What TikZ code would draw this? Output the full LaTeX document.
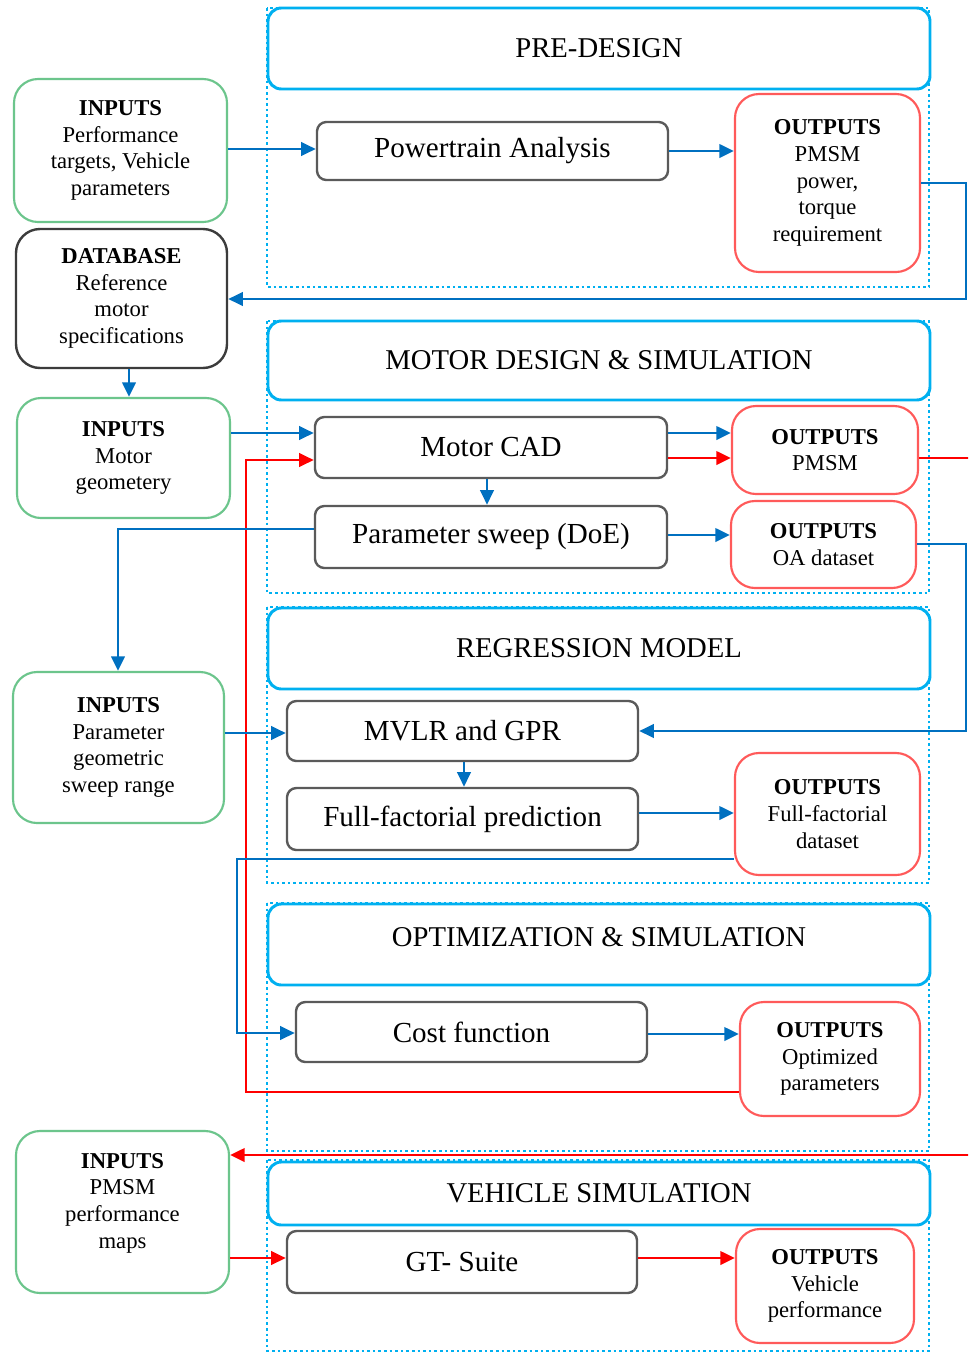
\documentclass[tikz,border=0pt]{standalone}
\usepackage{fontspec}
\setmainfont{Liberation Serif}
\usetikzlibrary{arrows.meta}
\definecolor{cblue}{HTML}{0070C0}
\definecolor{ctitle}{HTML}{00B0F0}
\definecolor{cgreen}{HTML}{6CC58C}
\definecolor{cout}{HTML}{FF5A5A}
\definecolor{cgray}{HTML}{5A5A5A}
\definecolor{cdb}{HTML}{3C3C3C}
\definecolor{cred}{HTML}{FF0000}
\begin{document}
\begin{tikzpicture}[x=0.75pt,y=-0.75pt,
  sz/.style 2 args={minimum width=#1*0.75pt, minimum height=#2*0.75pt},
  base/.style={draw, fill=white, inner sep=0pt, align=center},
  titlebox/.style={base, draw=ctitle, line width=2.2pt, rounded corners=10pt, font=\fontsize{21.5}{26}\selectfont},
  procbox/.style={base, draw=cgray, line width=1.8pt, rounded corners=7pt, font=\fontsize{21.8}{26}\selectfont},
  inbox/.style={base, draw=cgreen, line width=1.6pt, rounded corners=18pt, font=\fontsize{17}{20}\selectfont},
  dbbox/.style={base, draw=cdb, line width=1.8pt, rounded corners=18pt, font=\fontsize{17}{20}\selectfont},
  outbox/.style={base, draw=cout, line width=1.6pt, rounded corners=18pt, font=\fontsize{17}{20}\selectfont},
  plaintext/.style={inner sep=0pt, align=center},
  section/.style={draw=ctitle, line width=2.2pt, dash pattern=on 2pt off 2.2pt},
  barrow/.style={draw=cblue, line width=2.2pt, -{Triangle[length=11pt,width=10pt]}},
  rarrow/.style={draw=cred, line width=2.2pt, -{Triangle[length=11pt,width=10pt]}}
]
\useasboundingbox (0,0) rectangle (968,1353);
\fill[white] (0,0) rectangle (968,1353);
\clip (0,0) rectangle (968,1353);

% dotted section outlines
\draw[section] (267,8) rectangle (929,287);
\draw[section] (267,321) rectangle (929,593);
\draw[section] (267,607) rectangle (929,883);
\draw[section] (267,903) rectangle (929,1151);
\draw[section] (267,1160) rectangle (929,1351);

% title boxes
\node[titlebox, sz={662}{81}] (t1) at (599,48.5) {PRE-DESIGN};
\node[titlebox, sz={662}{79}] (t2) at (599,360.5) {MOTOR DESIGN \& SIMULATION};
\node[titlebox, sz={662}{81}] (t3) at (599,648.5) {REGRESSION MODEL};
\node[titlebox, sz={662}{81}] (t4) at (599,944.5) {};
\node[plaintext, font=\fontsize{21.5}{26}\selectfont] (t4txt) at (599,937.5) {OPTIMIZATION \& SIMULATION};
\node[titlebox, sz={662}{63}] (t5) at (599,1193.5) {VEHICLE SIMULATION};

% process boxes
\node[procbox, sz={351}{58}] (pa) at (492.5,151) {Powertrain Analysis};
\node[procbox, sz={352}{61}] (cad) at (491,447.5) {Motor CAD};
\node[procbox, sz={352}{62}] (doe) at (491,537) {Parameter sweep (DoE)};
\node[procbox, sz={351}{60}] (mvlr) at (462.5,731) {MVLR and GPR};
\node[procbox, sz={351}{62}] (ffp) at (462.5,819) {Full-factorial prediction};
\node[procbox, sz={351}{60}] (cost) at (471.5,1032) {Cost function};
\node[procbox, sz={350}{62}] (gt) at (462,1262) {GT- Suite};

% input boxes
\node[inbox, sz={213}{143}] (in1) at (120.5,150.5) {\textbf{INPUTS}\\Performance\\targets, Vehicle\\parameters};
\node[dbbox, sz={211}{139}] (db) at (121.5,298.5) {\textbf{DATABASE}\\Reference\\motor\\specifications};
\node[inbox, sz={213}{120}] (in2) at (123.5,458) {\textbf{INPUTS}\\Motor\\geometery};
\node[inbox, sz={211}{151}] (in3) at (118.5,747.5) {\textbf{INPUTS}\\Parameter\\geometric\\sweep range};
\node[inbox, sz={213}{162}] (in4) at (122.5,1212) {};
\node[plaintext, font=\fontsize{17}{20}\selectfont] (in4txt) at (122.5,1203) {\textbf{INPUTS}\\PMSM\\performance\\maps};

% output boxes
\node[outbox, sz={185}{178}] (o1) at (827.5,183) {\textbf{OUTPUTS}\\PMSM\\power,\\torque\\requirement};
\node[outbox, sz={186}{88}] (o2) at (825,450) {\textbf{OUTPUTS}\\PMSM};
\node[outbox, sz={185}{87}] (o3) at (823.5,544.5) {\textbf{OUTPUTS}\\OA dataset};
\node[outbox, sz={185}{122}] (o4) at (827.5,814) {\textbf{OUTPUTS}\\Full-factorial\\dataset};
\node[outbox, sz={180}{114}] (o5) at (830,1059) {\textbf{OUTPUTS}\\Optimized\\parameters};
\node[outbox, sz={178}{114}] (o6) at (825,1286) {\textbf{OUTPUTS}\\Vehicle\\performance};

% connectors
\coordinate (r1a) at (966,183);
\coordinate (r1b) at (966,299);
\coordinate (r2a) at (966,544);
\coordinate (r2b) at (966,731);
\coordinate (r3a) at (995,458);
\coordinate (r3b) at (995,1155);

\draw[barrow] (in1.east |- 0,149) -- (pa.west |- 0,149);
\draw[barrow] (pa.east |- 0,151) -- (o1.west |- 0,151);
\draw[barrow] (o1.east |- 0,183) -- (r1a) -- (r1b) -- (db.east |- 0,299);
\draw[barrow] (db.south -| 129,0) -- (in2.north -| 129,0);
\draw[barrow] (in2.east |- 0,433) -- (cad.west |- 0,433);
\draw[rarrow] (o5.west |- 0,1092) -- (246,1092) -- (246,460) -- (cad.west |- 0,460);
\draw[barrow] (cad.east |- 0,433) -- (o2.west |- 0,433);
\draw[rarrow] (cad.east |- 0,458) -- (o2.west |- 0,458);
\draw[barrow] (cad.south -| 487,0) -- (doe.north -| 487,0);
\draw[barrow] (doe.east |- 0,535) -- (o3.west |- 0,535);
\draw[barrow] (doe.west |- 0,529) -- (118,529) -- (in3.north -| 118,0);
\draw[barrow] (o3.east |- 0,544) -- (r2a) -- (r2b) -- (mvlr.east |- 0,731);
\draw[barrow] (in3.east |- 0,733) -- (mvlr.west |- 0,733);
\draw[barrow] (mvlr.south -| 464,0) -- (ffp.north -| 464,0);
\draw[barrow] (ffp.east |- 0,813) -- (o4.west |- 0,813);
\draw[barrow] (o4.west |- 0,859) -- (237,859) -- (237,1033) -- (cost.west |- 0,1033);
\draw[barrow] (cost.east |- 0,1034) -- (o5.west |- 0,1034);
\draw[rarrow] (o2.east |- 0,458) -- (r3a) -- (r3b) -- (in4.east |- 0,1155);
\draw[rarrow] (in4.east |- 0,1258) -- (gt.west |- 0,1258);
\draw[rarrow] (gt.east |- 0,1258) -- (o6.west |- 0,1258);
\end{tikzpicture}
\end{document}
